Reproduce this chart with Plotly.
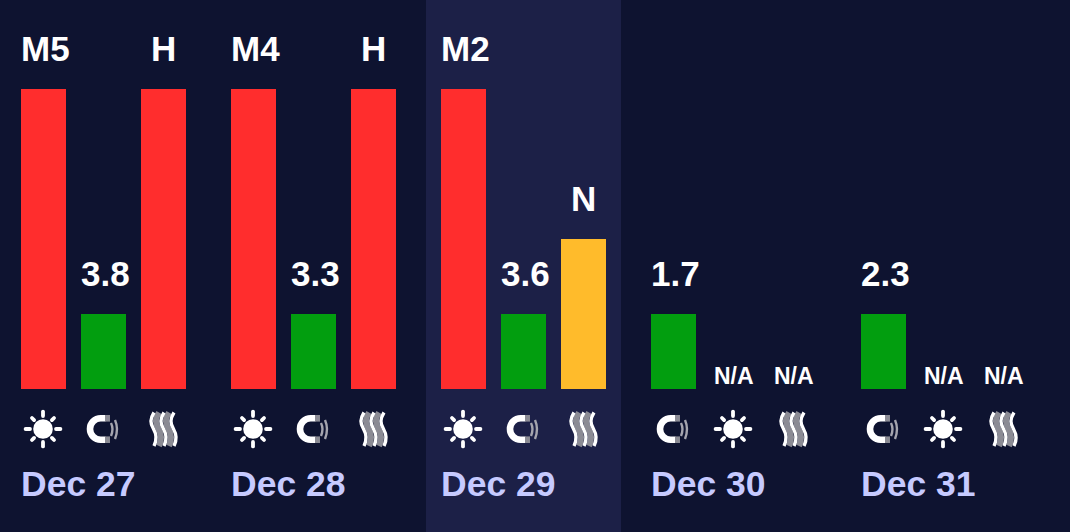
import base64
import plotly.graph_objects as go

days = ["Dec 27", "Dec 28", "Dec 29", "Dec 30", "Dec 31"]
kinds = [
    ["sun", "magnet", "heat"],
    ["sun", "magnet", "heat"],
    ["sun", "magnet", "heat"],
    ["magnet", "sun", "heat"],
    ["magnet", "sun", "heat"],
]
labels = [
    ["M5", "3.8", "H"],
    ["M4", "3.3", "H"],
    ["M2", "3.6", "N"],
    ["1.7", "N/A", "N/A"],
    ["2.3", "N/A", "N/A"],
]
levels = [
    [4, 1, 4],
    [4, 1, 4],
    [4, 1, 2],
    [1, 0, 0],
    [1, 0, 0],
]
highlight_day = 2

BG = "#0e1330"
BAND = "#1c2047"
LEVEL_COLORS = {0: "#029e0f", 1: "#029e0f", 2: "#ffbb2b", 4: "#ff2d2d"}
DATE_COLOR = "#c6caff"
FONT = "Liberation Sans, Arial, sans-serif"

W, H = 1070, 532
PX_X = 60.0   # pixels per slot
PX_Y = 75.0   # pixels per level
X0 = 43.5     # pixel of first slot centre
Y0 = 389.0    # pixel of the baseline
GROUP_STEP = 3.5

x_range = [-X0 / PX_X, (W - X0) / PX_X]
y_range = [-(H - Y0) / PX_Y, Y0 / PX_Y]


def svg_uri(body):
    svg = f'<svg xmlns="http://www.w3.org/2000/svg" width="44" height="44" viewBox="0 0 44 44">{body}</svg>'
    return "data:image/svg+xml;base64," + base64.b64encode(svg.encode()).decode()


sun_rays = "".join(
    f'<line x1="21.5" y1="{y1}" x2="21.5" y2="{y2}" transform="rotate({a} 21.5 22)" '
    'stroke="#fff" stroke-width="3.8" stroke-linecap="round"/>'
    for a, y1, y2 in [(r, 9.0, 4.6) if r % 90 == 0 else (r, 9.4, 6.4) for r in range(0, 360, 45)]
)
WAVE = "M12.5 5.5 C8.5 12 8.5 16 12 22 C15.5 28 15.5 33 12.5 39"
ICONS = {
    "sun": svg_uri(f'<circle cx="21.5" cy="22" r="9.8" fill="#fff"/>{sun_rays}'),
    "magnet": svg_uri(
        '<path d="M24 11.3 H19.2 A10.7 10.7 0 0 0 19.2 32.7 H24" fill="none" stroke="#fff" stroke-width="6.6"/>'
        '<rect x="23.5" y="8" width="5" height="6.6" fill="#8b8b94"/>'
        '<rect x="23.5" y="29.4" width="5" height="6.6" fill="#8b8b94"/>'
        '<path d="M29.5 16 Q32.5 22 29.5 29" fill="none" stroke="#a5a5ae" stroke-width="2.4"/>'
        '<path d="M33.5 13 Q37.5 22 33.5 32" fill="none" stroke="#a5a5ae" stroke-width="2.4"/>'
    ),
    "heat": svg_uri(
        "".join(
            f'<path transform="translate({dx} 0)" d="{WAVE}" fill="none" stroke="{c}" stroke-width="{w}"/>'
            for dx, c, w in [(5, "#8b8b94", 6), (15, "#8b8b94", 6), (0, "#fff", 3.4), (10, "#fff", 3.4), (20, "#fff", 3.4)]
        )
    ),
}

bar_x, bar_y, bar_color, annotations, images, shapes = [], [], [], [], [], []
for g, day in enumerate(days):
    for s in range(3):
        x = g * GROUP_STEP + s
        lv = levels[g][s]
        lab = labels[g][s]
        bar_x.append(x)
        bar_y.append(lv)
        bar_color.append(LEVEL_COLORS[lv])
        small = lab == "N/A"
        annotations.append(dict(
            x=x, y=lv, xref="x", yref="y", text=f"<b>{lab}</b>", showarrow=False,
            xanchor="center", yanchor="bottom",
            xshift=0 if small or len(lab) == 1 else 2,
            yshift=-1.5 if small else 19,
            font=dict(family=FONT, size=23 if small else 35, color="#ffffff"),
        ))
        images.append(dict(
            source=ICONS[kinds[g][s]], xref="x", yref="y", x=x, y=-40 / PX_Y,
            sizex=44 / PX_X, sizey=44 / PX_Y, xanchor="center", yanchor="middle",
            sizing="contain", layer="above",
        ))
    annotations.append(dict(
        x=g * GROUP_STEP - 22.5 / PX_X, y=-94.5 / PX_Y, xref="x", yref="y", text=f"<b>{day}</b>",
        showarrow=False, xanchor="left", yanchor="middle", xshift=-2,
        font=dict(family=FONT, size=35.5, color=DATE_COLOR),
    ))

band_left = highlight_day * GROUP_STEP - 37.5 / PX_X
band_right = highlight_day * GROUP_STEP + 2 + 37.5 / PX_X
shapes.append(dict(
    type="rect", xref="x", yref="paper", x0=band_left, x1=band_right, y0=0, y1=1,
    fillcolor=BAND, line_width=0, layer="below",
))

fig = go.Figure(go.Bar(
    x=bar_x, y=bar_y, width=0.75, marker=dict(color=bar_color, line_width=0), hoverinfo="skip",
))
fig.update_layout(
    width=W, height=H, margin=dict(l=0, r=0, t=0, b=0), autosize=False,
    paper_bgcolor=BG, plot_bgcolor=BG, showlegend=False,
    xaxis=dict(range=x_range, visible=False, fixedrange=True),
    yaxis=dict(range=y_range, visible=False, fixedrange=True),
    annotations=annotations, images=images, shapes=shapes,
)
fig.write_html(
    "out.html",
    config={"displayModeBar": False},
    post_script="document.body.style.margin='0';document.body.style.background='#0e1330';document.body.style.overflow='hidden';",
)
